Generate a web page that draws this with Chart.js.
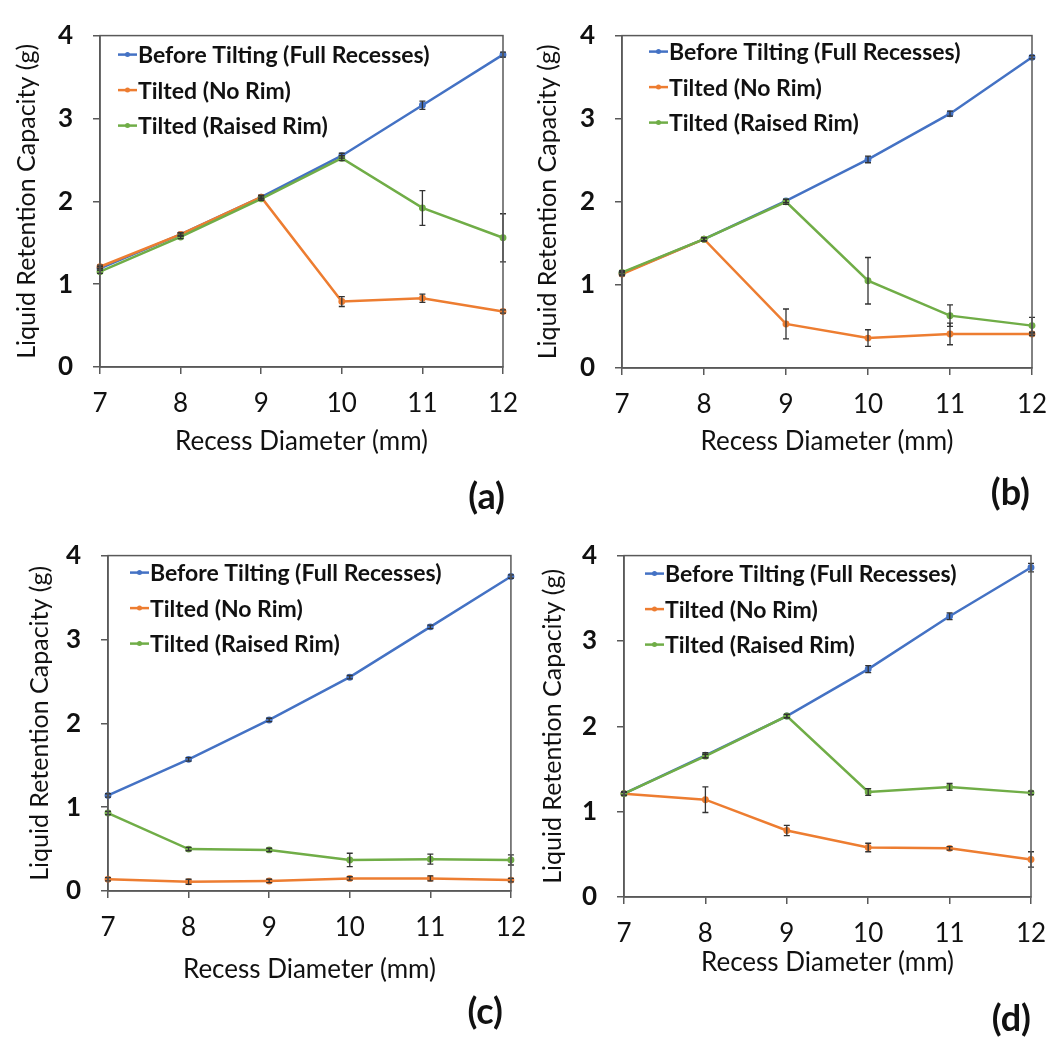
<!DOCTYPE html>
<html>
<head>
<meta charset="utf-8">
<script src="https://cdn.jsdelivr.net/npm/chart.js@4.4.1/dist/chart.umd.min.js"></script>
<style>
  body { margin: 0; background: #fff; overflow: hidden; }
  #wrap { position: relative; width: 1058px; height: 1040px; }
  .panel { position: absolute; width: 540px; height: 520px; }
  .tag { position: absolute; font: bold 36px Lato, sans-serif; color: #111; }
</style>
</head>
<body>
<div id="wrap">
  <div class="panel" style="left:0;top:0"><canvas id="chartA"></canvas></div>
  <div class="panel" style="left:529px;top:0"><canvas id="chartB"></canvas></div>
  <div class="panel" style="left:0;top:520px"><canvas id="chartC"></canvas></div>
  <div class="panel" style="left:529px;top:520px"><canvas id="chartD"></canvas></div>
  <div class="tag" style="right:553px;top:473px">(a)</div>
  <div class="tag" style="right:28px;top:469px">(b)</div>
  <div class="tag" style="right:555px;top:988px">(c)</div>
  <div class="tag" style="right:27px;top:995px">(d)</div>
</div>
<script>
const diameters = ['7', '8', '9', '10', '11', '12'];
const seriesNames = ['Before Tilting (Full Recesses)', 'Tilted (No Rim)', 'Tilted (Raised Rim)'];

// (a)
const aBefore = [1.19, 1.60, 2.05, 2.55, 3.16, 3.77];
const aBeforeErr = [0.02, 0.02, 0.02, 0.03, 0.05, 0.03];
const aNoRim = [1.21, 1.60, 2.05, 0.79, 0.83, 0.67];
const aNoRimErr = [0.02, 0.02, 0.02, 0.06, 0.05, 0.02];
const aRaised = [1.15, 1.57, 2.03, 2.52, 1.92, 1.56];
const aRaisedErr = [0.02, 0.02, 0.02, 0.03, 0.21, 0.29];

// (b)
const bBefore = [1.14, 1.55, 2.01, 2.51, 3.06, 3.74];
const bBeforeErr = [0.02, 0.02, 0.02, 0.04, 0.03, 0.02];
const bNoRim = [1.13, 1.55, 0.53, 0.36, 0.41, 0.41];
const bNoRimErr = [0.02, 0.02, 0.18, 0.10, 0.13, 0.02];
const bRaised = [1.15, 1.55, 2.00, 1.05, 0.63, 0.51];
const bRaisedErr = [0.02, 0.02, 0.03, 0.28, 0.13, 0.10];

// (c)
const cBefore = [1.14, 1.57, 2.04, 2.55, 3.15, 3.75];
const cBeforeErr = [0.02, 0.02, 0.02, 0.02, 0.02, 0.02];
const cNoRim = [0.14, 0.11, 0.12, 0.15, 0.15, 0.13];
const cNoRimErr = [0.02, 0.03, 0.02, 0.02, 0.03, 0.02];
const cRaised = [0.93, 0.50, 0.49, 0.37, 0.38, 0.37];
const cRaisedErr = [0.02, 0.02, 0.02, 0.08, 0.06, 0.06];

// (d)
const dBefore = [1.21, 1.66, 2.12, 2.67, 3.29, 3.86];
const dBeforeErr = [0.02, 0.03, 0.02, 0.04, 0.04, 0.05];
const dNoRim = [1.21, 1.14, 0.78, 0.58, 0.57, 0.44];
const dNoRimErr = [0.02, 0.15, 0.06, 0.05, 0.02, 0.09];
const dRaised = [1.21, 1.65, 2.12, 1.23, 1.29, 1.22];
const dRaisedErr = [0.02, 0.02, 0.02, 0.04, 0.04, 0.02];

const colors = ['#4472C4', '#ED7D31', '#70AD47'];
const axisColor = '#595959';
const W = 540, H = 520;
const yTitleSize = 25, xTitleSize = 26;

// error bars drawn with the chart's own scales
const errorBars = {
    id: 'errorBars',
    afterDatasetsDraw(chart) {
        const ctx = chart.ctx;
        const y = chart.scales.y;
        ctx.save();
        ctx.strokeStyle = '#333';
        ctx.lineWidth = 1.3;
        chart.data.datasets.forEach((ds, i) => {
            const meta = chart.getDatasetMeta(i);
            meta.data.forEach((pt, j) => {
                const e = ds.errors[j];
                if (!e) return;
                const y1 = y.getPixelForValue(ds.data[j] - e);
                const y2 = y.getPixelForValue(ds.data[j] + e);
                ctx.beginPath();
                ctx.moveTo(pt.x, y1); ctx.lineTo(pt.x, y2);
                ctx.moveTo(pt.x - 3, y1); ctx.lineTo(pt.x + 3, y1);
                ctx.moveTo(pt.x - 3, y2); ctx.lineTo(pt.x + 3, y2);
                ctx.stroke();
            });
        });
        ctx.restore();
    }
};

// box round the plot + legend inside it
const frameAndLegend = {
    id: 'frameAndLegend',
    afterDraw(chart, args, opts) {
        const ctx = chart.ctx;
        const a = chart.chartArea;
        ctx.save();
        ctx.strokeStyle = axisColor;
        ctx.lineWidth = 1.5;
        ctx.strokeRect(a.left, a.top, a.right - a.left, a.bottom - a.top);

        ctx.font = 'bold 23px Lato, sans-serif';
        ctx.textBaseline = 'middle';
        chart.data.datasets.forEach((ds, i) => {
            const yy = a.top + opts.dy + i * 35.5;
            const x0 = a.left + opts.dx;
            ctx.strokeStyle = ds.borderColor;
            ctx.lineWidth = 2.5;
            ctx.beginPath();
            ctx.moveTo(x0, yy); ctx.lineTo(x0 + 19, yy);
            ctx.stroke();
            ctx.fillStyle = ds.borderColor;
            ctx.beginPath();
            ctx.arc(x0 + 9.5, yy, 2.5, 0, Math.PI * 2);
            ctx.fill();
            ctx.fillStyle = '#111';
            ctx.fillText(ds.label, x0 + 20, yy + 1);
        });
        ctx.restore();
    }
};

function makeChart(id, g, before, beforeErr, noRim, noRimErr, raised, raisedErr) {
    const padLeft = g.yTitleX - yTitleSize * 0.6;
    const xBottom = g.xTitleY + xTitleSize * 0.6;
    const series = [before, noRim, raised];
    const errs = [beforeErr, noRimErr, raisedErr];
    const drawOrder = [2, 1, 0];

    new Chart(document.getElementById(id), {
        type: 'line',
        data: {
            labels: diameters,
            datasets: series.map((s, i) => ({
                label: seriesNames[i],
                data: s,
                errors: errs[i],
                borderColor: colors[i],
                backgroundColor: colors[i],
                borderWidth: 2.5,
                pointRadius: 2.2,
                pointHoverRadius: 2.2,
                tension: 0,
                order: drawOrder[i]
            }))
        },
        options: {
            responsive: false,
            animation: false,
            devicePixelRatio: 1,
            layout: {
                padding: { left: padLeft, top: g.top, right: W - g.right, bottom: H - xBottom }
            },
            plugins: {
                legend: { display: false },
                tooltip: { enabled: false },
                frameAndLegend: { dx: g.legX, dy: g.legY }
            },
            scales: {
                x: {
                    type: 'category',
                    offset: false,
                    grid: { offset: false, drawOnChartArea: false, drawTicks: true, tickLength: 7, color: axisColor, lineWidth: 1.5 },
                    border: { display: true, color: axisColor, width: 1.5 },
                    ticks: { color: '#111', padding: 14, maxRotation: 0, font: { family: 'Lato', size: 26, lineHeight: 1.2 } },
                    title: { display: true, text: 'Recess Diameter (mm)', color: '#111', padding: 0,
                             font: { family: 'Lato', size: xTitleSize, lineHeight: 1.2 } },
                    afterFit(scale) { scale.height = xBottom - g.bottom; }
                },
                y: {
                    min: 0, max: 4,
                    grid: { drawOnChartArea: false, drawTicks: true, tickLength: 7, color: axisColor, lineWidth: 1.5 },
                    border: { display: true, color: axisColor, width: 1.5 },
                    ticks: { stepSize: 1, color: '#111', padding: 20, font: { family: 'Lato', size: 26, weight: 'bold' } },
                    title: { display: true, text: 'Liquid Retention Capacity (g)', color: '#111', padding: 0,
                             font: { family: 'Lato', size: yTitleSize, lineHeight: 1.2 } },
                    afterFit(scale) { scale.width = g.left - padLeft; }
                }
            }
        },
        plugins: [errorBars, frameAndLegend]
    });
}

['chartA', 'chartB', 'chartC', 'chartD'].forEach(id => {
    const el = document.getElementById(id);
    el.width = W; el.height = H;
});

makeChart('chartA', { left: 100, top: 21, right: 503, bottom: 367, yTitleX: 27, xTitleY: 442, legX: 18, legY: 19 },
    aBefore, aBeforeErr, aNoRim, aNoRimErr, aRaised, aRaisedErr);
makeChart('chartB', { left: 93, top: 21, right: 503, bottom: 368, yTitleX: 19, xTitleY: 442, legX: 27, legY: 16 },
    bBefore, bBeforeErr, bNoRim, bNoRimErr, bRaised, bRaisedErr);
makeChart('chartC', { left: 108, top: 26, right: 515, bottom: 371, yTitleX: 40, xTitleY: 450, legX: 22, legY: 17 },
    cBefore, cBeforeErr, cNoRim, cNoRimErr, cRaised, cRaisedErr);
makeChart('chartD', { left: 95, top: 25, right: 502, bottom: 377, yTitleX: 24, xTitleY: 443, legX: 21, legY: 18 },
    dBefore, dBeforeErr, dNoRim, dNoRimErr, dRaised, dRaisedErr);
</script>
</body>
</html>
